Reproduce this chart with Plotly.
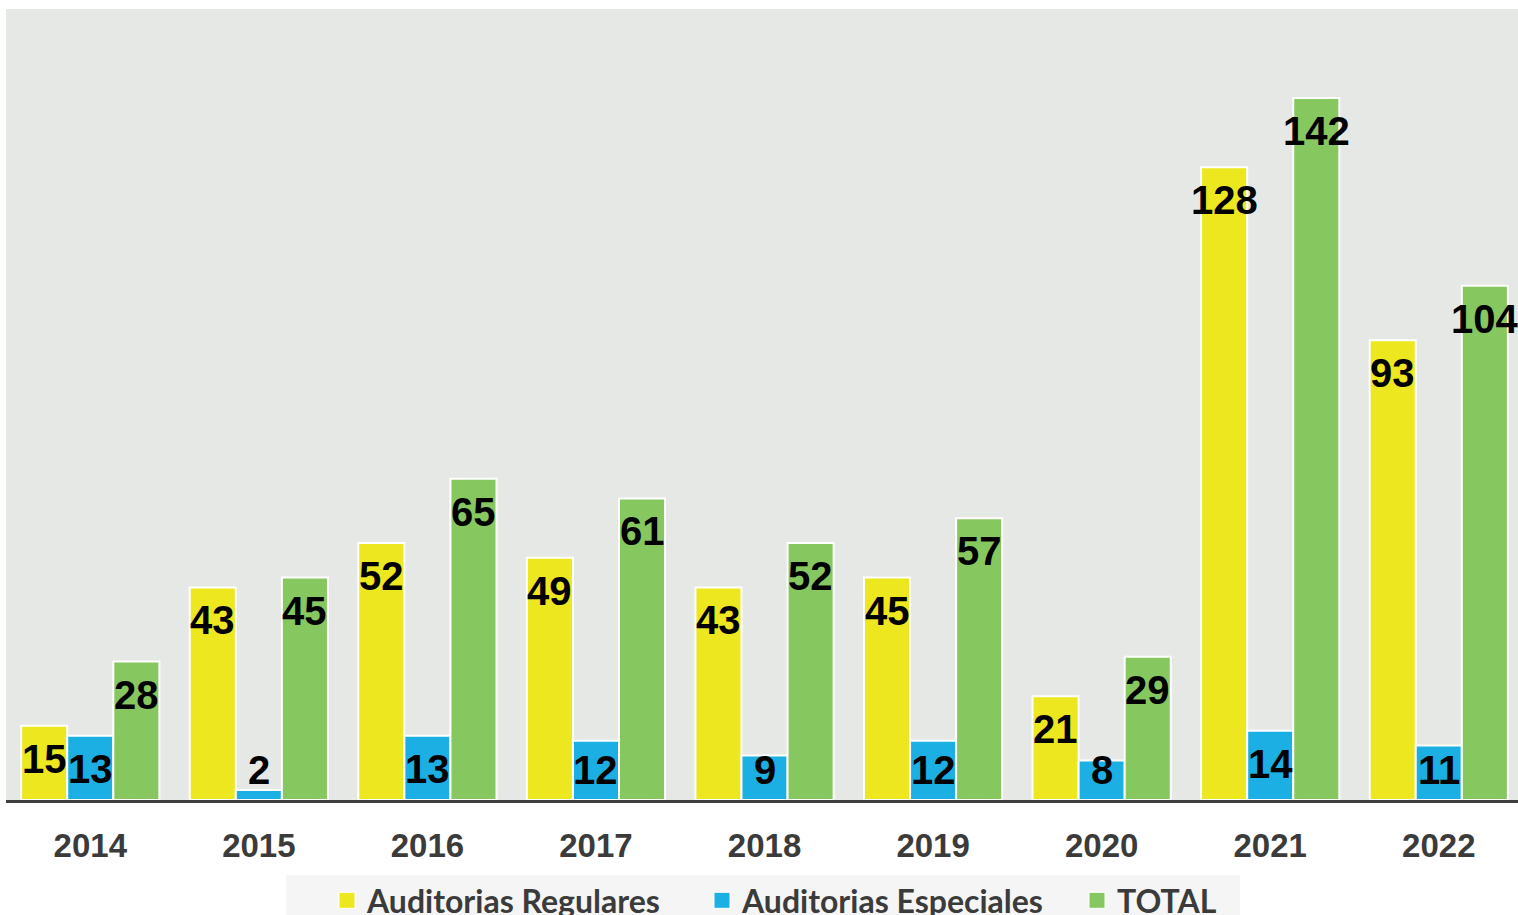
import plotly.graph_objects as go

# Data
years = ["2014", "2015", "2016", "2017", "2018", "2019", "2020", "2021", "2022"]
regulares = [15, 43, 52, 49, 43, 45, 21, 128, 93]
especiales = [13, 2, 13, 12, 9, 12, 8, 14, 11]
total = [28, 45, 65, 61, 52, 57, 29, 142, 104]

series_names = ["Auditorias Regulares", "Auditorias Especiales", "TOTAL"]
series_colors = ["#ECE71F", "#1BAFE4", "#87C760"]

W, H = 1518, 915
M_L, M_R, M_T, M_B = 6, 0, 9, 115
Y_MAX = 160
BARGAP = 0.18

fig = go.Figure()
for name, vals, col in zip(series_names, [regulares, especiales, total], series_colors):
    fig.add_trace(go.Bar(
        x=years, y=vals, name=name, showlegend=False,
        marker=dict(color=col, line=dict(color="white", width=2)),
    ))
    # legend entry with a larger square swatch
    fig.add_trace(go.Scatter(
        x=[None], y=[None], mode="markers", name=f"<b>{name}</b>",
        marker=dict(symbol="square", size=16, color=col,
                    line=dict(color="white", width=1)),
    ))

# value labels near the top of each bar (kept above the axis for short bars)
plot_h = H - M_T - M_B
plot_w = W - M_L - M_R
ppu = plot_h / Y_MAX
bar_w = (1 - BARGAP) / 3
annotations = []
for k, vals in enumerate([regulares, especiales, total]):
    for i, v in enumerate(vals):
        if v * ppu - 33 >= 30:
            y, ys = v, -33
        else:
            y, ys = 0, 30
        annotations.append(dict(
            x=i + (k - 1) * bar_w, y=y, yshift=ys, xref="x", yref="y",
            text=f"<b>{v}</b>", showarrow=False,
            font=dict(family="Liberation Sans, Arial", size=40, color="black"),
            xanchor="center", yanchor="middle",
        ))

fig.update_layout(
    width=W, height=H,
    margin=dict(l=M_L, r=M_R, t=M_T, b=M_B, autoexpand=False),
    paper_bgcolor="white",
    plot_bgcolor="#E6E8E5",
    barmode="group", bargap=BARGAP, bargroupgap=0,
    annotations=annotations,
    xaxis=dict(
        type="category", range=[-0.5, 8.47],
        showline=True, linecolor="#404040", linewidth=3,
        showgrid=False, ticks="", ticklabelstandoff=14,
        tickfont=dict(family="Liberation Sans, Arial", size=33, color="#3B3B3B"),
        tickprefix="<b>", ticksuffix="</b>",
    ),
    yaxis=dict(range=[0, Y_MAX], visible=False, showgrid=False),
    legend=dict(
        orientation="h", x=(338 - 11 - M_L) / plot_w, xanchor="left",
        y=-(873 - (H - M_B)) / plot_h, yanchor="top",
        bgcolor="rgba(0,0,0,0)",
        font=dict(family="Lato", size=32, color="#3B3B3B"),
        entrywidth=330, tracegroupgap=0,
    ),
    shapes=[dict(
        type="rect", xref="paper", yref="paper",
        x0=(286 - M_L) / plot_w, x1=(1240 - M_L) / plot_w,
        y0=-(H - M_B + 60 - (H - M_B)) / plot_h * 2, y1=-(875 - (H - M_B)) / plot_h,
        fillcolor="#F5F5F5", line=dict(width=0), layer="below",
    )],
)

fig.write_html("out.html")
